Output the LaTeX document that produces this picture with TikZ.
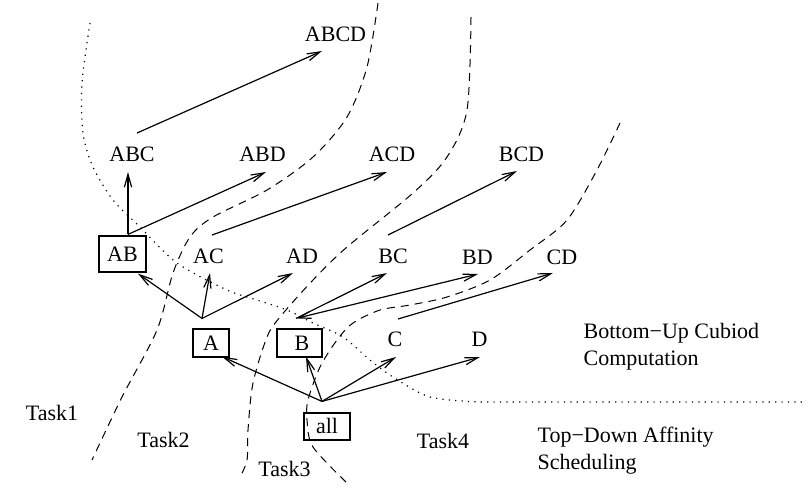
\documentclass[tikz,border=0pt]{standalone}
\usepackage{fontspec}
\setmainfont{Liberation Serif}
\usetikzlibrary{arrows.meta}

\begin{document}
\begin{tikzpicture}[x=0.5pt,y=-0.5pt,line width=0.6pt,
        >={Straight Barb[length=6.5pt,width=3.6pt]},
        every node/.style={font=\fontsize{11}{13.5}\selectfont},
        lbl/.style={inner sep=0pt,text height=7.4pt,text depth=0pt},
        box/.style={lbl,draw},
        split/.style={dash pattern=on 4pt off 3pt,line width=0.5pt},
        phase/.style={dash pattern=on 0.6pt off 2.6pt,line width=0.6pt}]

        \useasboundingbox (0,0) rectangle (812,495);

        % lattice
        \node[lbl]  (ABCD) at (335.5,34.5)  {ABCD};

        \node[lbl]  (ABC)  at (132,154.5)   {ABC};
        \node[lbl]  (ABD)  at (262.5,154.5) {ABD};
        \node[lbl]  (ACD)  at (392,154.5)   {ACD};
        \node[lbl]  (BCD)  at (521.5,154.5) {BCD};

        \node[box,minimum width=23.5pt,minimum height=18pt] (AB) at (122.5,254) {AB};
        \node[lbl]  (AC)   at (208.5,256)   {AC};
        \node[lbl]  (AD)   at (302,256)     {AD};
        \node[lbl]  (BC)   at (393,256)     {BC};
        \node[lbl]  (BD)   at (477.5,257)   {BD};
        \node[lbl]  (CD)   at (562,257)     {CD};

        \node[box,minimum width=18pt,minimum height=14pt]   (A) at (211,343)   {A};
        \node[box,minimum width=22.5pt,minimum height=14pt] (B) at (299.5,343) {\hspace{2.5pt}B};
        \node[lbl]  (C)    at (395,339.5)   {C};
        \node[lbl]  (D)    at (479.5,339.5) {D};

        \node[box,minimum width=23pt,minimum height=13.5pt] (all) at (327,426.5) {all};

        % tasks and phases
        \node[lbl]  (T1) at (52,413.5)  {Task1};
        \node[lbl]  (T2) at (163.5,440.5) {Task2};
        \node[lbl]  (T3) at (284.5,469) {Task3};
        \node[lbl]  (T4) at (443,441)   {Task4};
        \node[inner sep=0pt,anchor=west,align=left] (BU) at (583,346.5)
                {Bottom−Up Cubiod\\Computation};
        \node[inner sep=0pt,anchor=west,align=left] (TD) at (537,450.4)
                {Top−Down Affinity\\Scheduling};

        \path[->]
                  ([shift={(5,-21.5)}]ABC.center)   edge ([shift={(-13.5,16.5)}]ABCD.center)
                  ([shift={(5.5,-1)}]AB.north)      edge ([shift={(-4,17.5)}]ABC.center)
                  ([shift={(5.5,-1)}]AB.north)      edge ([shift={(3.5,17.5)}]ABD.center)
                  ([shift={(3.5,-21)}]AC.center)    edge ([shift={(-5,17.5)}]ACD.center)
                  ([shift={(-5,-21)}]BC.center)     edge ([shift={(-4.5,16.5)}]BCD.center)
                  ([shift={(-9,-10)}]A.north)       edge ([shift={(15.5,1)}]AB.south)
                  ([shift={(-9,-10)}]A.north)       edge ([shift={(1.5,17)}]AC.center)
                  ([shift={(-9,-10)}]A.north)       edge ([shift={(-9,17)}]AD.center)
                  ([shift={(-3.5,-10)}]B.north)     edge ([shift={(-6,17)}]BC.center)
                  ([shift={(-3.5,-10)}]B.north)     edge [<->] ([shift={(0.5,17)}]BD.center)
                  ([shift={(3,-20.5)}]C.center)     edge ([shift={(-9,16)}]CD.center)
                  ([shift={(-5,-11)}]all.north)     edge ([shift={(11,-1)}]A.south)
                  ([shift={(-5,-11)}]all.north)     edge ([shift={(6.5,-1)}]B.south)
                  ([shift={(-5,-11)}]all.north)     edge ([shift={(1,17.5)}]C.center)
                  ([shift={(-5,-11)}]all.north)     edge ([shift={(0.5,17.5)}]D.center);

        % task borders
        \draw[split] plot[smooth] coordinates {(378,3) (367,67) (347,117) (313,157) (267,190)
                (213,217) (190,237) (173,273) (157,330) (122,397) (92,460)};
        \draw[split] plot[smooth] coordinates {(471,17) (467,110) (447,157) (413,193) (347,247)
                (313,280) (280,317) (267,337) (253,383) (248,430) (247,460) (240,477)};
        \draw[split] plot[smooth] coordinates {(620,123) (597,170) (567,220) (530,250) (490,280)
                (447,297) (410,305) (380,310) (353,323) (337,340) (320,367) (308,400)
                (307,420) (313,447) (347,483)};

        % phase border
        \draw[phase] plot[smooth] coordinates {(90,23) (82,83) (83,133) (93,167) (113,200)
                (140,227) (177,263) (227,290) (257,300) (287,310) (313,323) (343,337)
                (370,360) (393,377) (430,397) (480,402)} -- (805,402);
      \end{tikzpicture}
\end{document}
